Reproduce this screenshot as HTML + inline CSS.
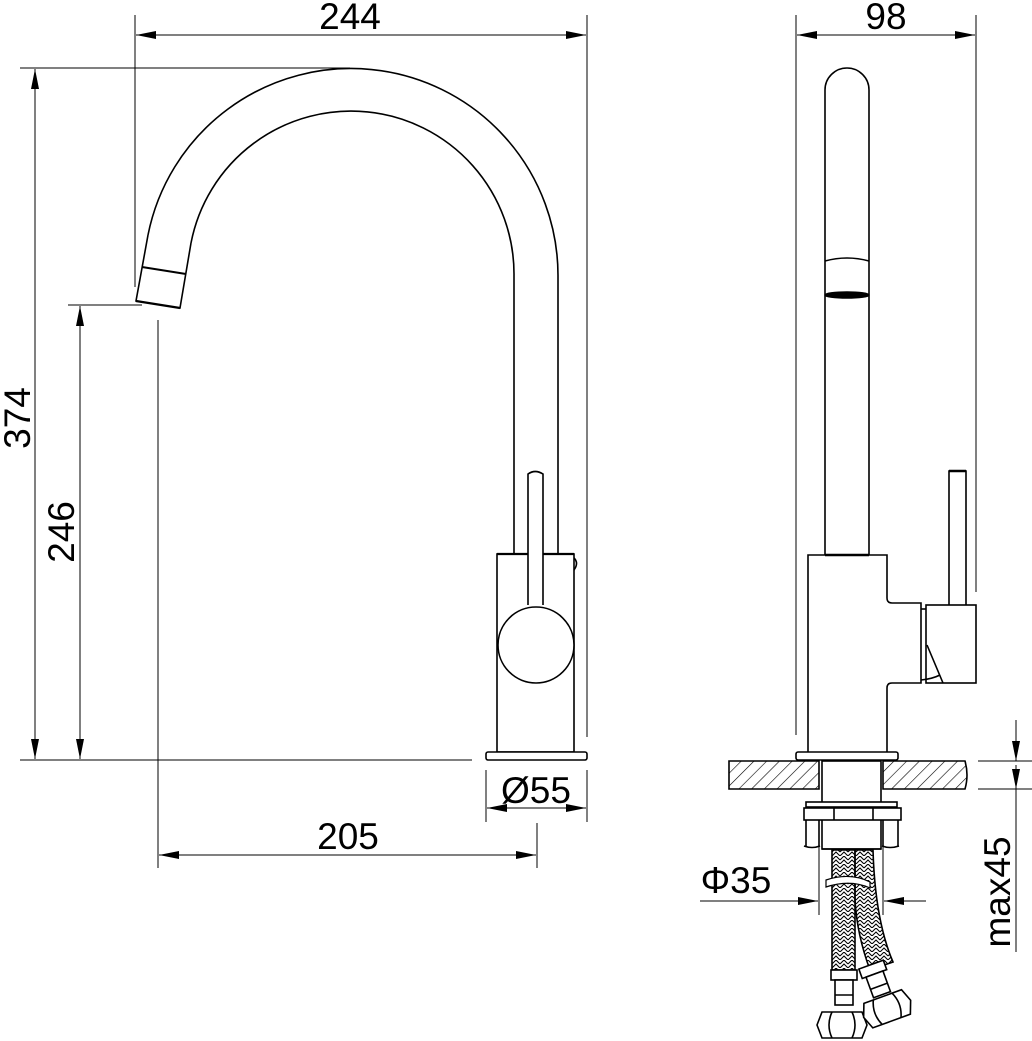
<!DOCTYPE html>
<html><head><meta charset="utf-8"><style>
html,body{margin:0;padding:0;background:#fff;}
svg{display:block;}
text{font-family:"Liberation Sans",sans-serif;fill:#000;}
</style></head><body>
<svg width="1032" height="1041" viewBox="0 0 1032 1041" xmlns="http://www.w3.org/2000/svg">
<defs>
<pattern id="hatch" patternUnits="userSpaceOnUse" width="9" height="9" patternTransform="rotate(45)">
<line x1="0" y1="0" x2="0" y2="9" stroke="#000" stroke-width="1.2"/>
</pattern>
<pattern id="braid" patternUnits="userSpaceOnUse" width="8" height="8">
<path d="M0,8 L4,4 L8,8 M0,4 L4,0 L8,4" fill="none" stroke="#000" stroke-width="1.1"/>
</pattern>
<marker id="ae" viewBox="0 0 20 8" refX="20" refY="4" markerWidth="20" markerHeight="8" markerUnits="userSpaceOnUse" orient="auto"><path d="M0,0 L20,4 L0,8 Z" fill="#000"/></marker>
<marker id="as" viewBox="0 0 20 8" refX="0" refY="4" markerWidth="20" markerHeight="8" markerUnits="userSpaceOnUse" orient="auto"><path d="M20,0 L0,4 L20,8 Z" fill="#000"/></marker>
</defs>

<g stroke="#000" fill="none" stroke-width="1">
<line x1="135" y1="15" x2="135" y2="287"/>
<line x1="587" y1="15" x2="587" y2="737"/>
<line x1="136" y1="35" x2="586" y2="35" marker-start="url(#as)" marker-end="url(#ae)"/>
<line x1="20" y1="68" x2="350" y2="68"/>
<line x1="20" y1="760" x2="472" y2="760"/>
<line x1="35" y1="69" x2="35" y2="759" marker-start="url(#as)" marker-end="url(#ae)"/>
<line x1="68" y1="305" x2="142" y2="305"/>
<line x1="80" y1="306" x2="80" y2="759" marker-start="url(#as)" marker-end="url(#ae)"/>
<line x1="158" y1="320" x2="158" y2="868"/>
<line x1="537" y1="823" x2="537" y2="868"/>
<line x1="159" y1="855" x2="536" y2="855" marker-start="url(#as)" marker-end="url(#ae)"/>
<line x1="486" y1="770" x2="486" y2="822"/>
<line x1="587" y1="770" x2="587" y2="822"/>
<line x1="487" y1="808" x2="586" y2="808" marker-start="url(#as)" marker-end="url(#ae)"/>
</g>

<g stroke="#000" fill="none" stroke-width="1.6">
<path d="M148,235 A207,207 0 0 1 558,276 L558,555"/>
<path d="M191,243 A163,163 0 0 1 514,276 L514,555"/>
<path d="M148,235 L136,301 L180,308 L191,243"/>
<line x1="142" y1="267" x2="186" y2="274" stroke-width="2"/>
<line x1="136" y1="301" x2="180" y2="308" stroke-width="2.2"/>
<rect x="497" y="554" width="77" height="198" fill="#fff"/>
<line x1="497" y1="554" x2="574" y2="554" stroke-width="2.2"/>
<rect x="486" y="752" width="101" height="8" rx="2" fill="#fff"/>
<path d="M574,558 Q579,563 574,570" />
<path d="M528,605 L528,474 Q535,469 543,474 L543,605" fill="#fff"/>
<circle cx="536" cy="645" r="38" fill="#fff"/>
</g>

<g stroke="#000" fill="none" stroke-width="1">
<line x1="796" y1="15" x2="796" y2="735"/>
<line x1="976" y1="15" x2="976" y2="592"/>
<line x1="797" y1="35" x2="975" y2="35" marker-start="url(#as)" marker-end="url(#ae)"/>
<line x1="978" y1="761" x2="1032" y2="761"/>
<line x1="978" y1="789" x2="1032" y2="789"/>
<line x1="1016" y1="720" x2="1016" y2="761" marker-end="url(#ae)"/>
<line x1="1016" y1="765" x2="1016" y2="789" marker-end="url(#ae)"/>
<line x1="1016" y1="789" x2="1016" y2="952"/>
<line x1="819" y1="840" x2="819" y2="915"/>
<line x1="883" y1="840" x2="883" y2="915"/>
<line x1="700" y1="901" x2="818" y2="901" marker-end="url(#ae)"/>
<line x1="926" y1="901" x2="884" y2="901" marker-end="url(#ae)"/>
</g>

<g stroke="#000" fill="none" stroke-width="1.6">
<path d="M825,555 L825,90 A22,22 0 0 1 869,90 L869,555"/>
<path d="M825,261 Q847,255 869,261" />
<ellipse cx="847" cy="295" rx="22" ry="3" fill="#000"/>
<path d="M808,752 L808,555 L887,555 L887,598 Q887,603 892,603 L921,603 L921,683 L892,683 Q887,683 887,688 L887,752"/>
<line x1="825" y1="555" x2="869" y2="555" stroke-width="2.4"/>
<path d="M949,605 L949,471 L966,471 L966,605"/>
<line x1="949" y1="471" x2="966" y2="471" stroke-width="2.4"/>
<rect x="926" y="605" width="50" height="78" fill="#fff"/>
<path d="M921,609 L926,609"/>
<path d="M927,645 L943,683"/>
<path d="M921,680 Q932,679 940,675"/>
<rect x="796" y="752" width="102" height="8" rx="2" fill="#fff"/>
<path d="M729,761 L819,761 L819,789 L729,789 Z" fill="url(#hatch)"/>
<path d="M883,761 L965,761 Q969,775 965,789 L883,789 Z" fill="url(#hatch)"/>
<rect x="822" y="761" width="59" height="88" fill="#fff"/>
<rect x="806" y="802" width="91" height="5" fill="#fff"/>
<rect x="804" y="808" width="97" height="12" fill="#fff"/>
<line x1="834" y1="808" x2="834" y2="820"/>
<line x1="873" y1="808" x2="873" y2="820"/>
<path d="M806,820 L806,846 M819,820 L819,846 M883,820 L883,846 M898,820 L898,846"/>
<path d="M804,846 Q812,849 820,846 M882,846 Q890,849 899,846"/>
<line x1="822" y1="849" x2="881" y2="849"/>
</g>

<g stroke="#000" stroke-width="1.6">
<path d="M832,850 L855,850 L855,970 L832,970 Z" fill="url(#braid)"/>
<path d="M855,850 L873,850 Q875,920 893,962 L870,970 Q857,935 855,900 Z" fill="url(#braid)"/>
<path d="M826,880 Q850,872 870,882 L870,888 Q850,879 826,887 Z" fill="#fff" stroke-width="1.2"/>
<rect x="831" y="970" width="26" height="10" fill="#fff"/>
<rect x="835" y="980" width="18" height="25" fill="#fff"/>
<line x1="835" y1="995" x2="853" y2="995"/>
<path d="M822,1012 L862,1012 L867,1025 L862,1038 L822,1038 L817,1025 Z" fill="#fff"/>
<path d="M832,1012 Q826,1025 832,1038 M852,1012 Q858,1025 852,1038" fill="none"/>
<g transform="rotate(-20 885 1000)">
<rect x="871" y="962" width="26" height="10" fill="#fff"/>
<rect x="875" y="972" width="18" height="22" fill="#fff"/>
<line x1="875" y1="985" x2="893" y2="985"/>
<path d="M864,996 L904,996 L909,1009 L904,1022 L864,1022 L859,1009 Z" fill="#fff"/>
<path d="M874,996 Q868,1009 874,1022 M894,996 Q900,1009 894,1022" fill="none"/>
</g>
</g>

<text x="350" y="29" font-size="37" text-anchor="middle">244</text>
<text x="886" y="29" font-size="37" text-anchor="middle">98</text>
<text x="536" y="803" font-size="37" text-anchor="middle">Ø55</text>
<text x="348" y="849" font-size="37" text-anchor="middle">205</text>
<text x="736" y="893" font-size="37" text-anchor="middle">Φ35</text>
<text transform="translate(30,418) rotate(-90)" font-size="37" text-anchor="middle">374</text>
<text transform="translate(74,532) rotate(-90)" font-size="37" text-anchor="middle">246</text>
<text transform="translate(1010,892) rotate(-90)" font-size="37" text-anchor="middle">max45</text>
</svg>
</body></html>
